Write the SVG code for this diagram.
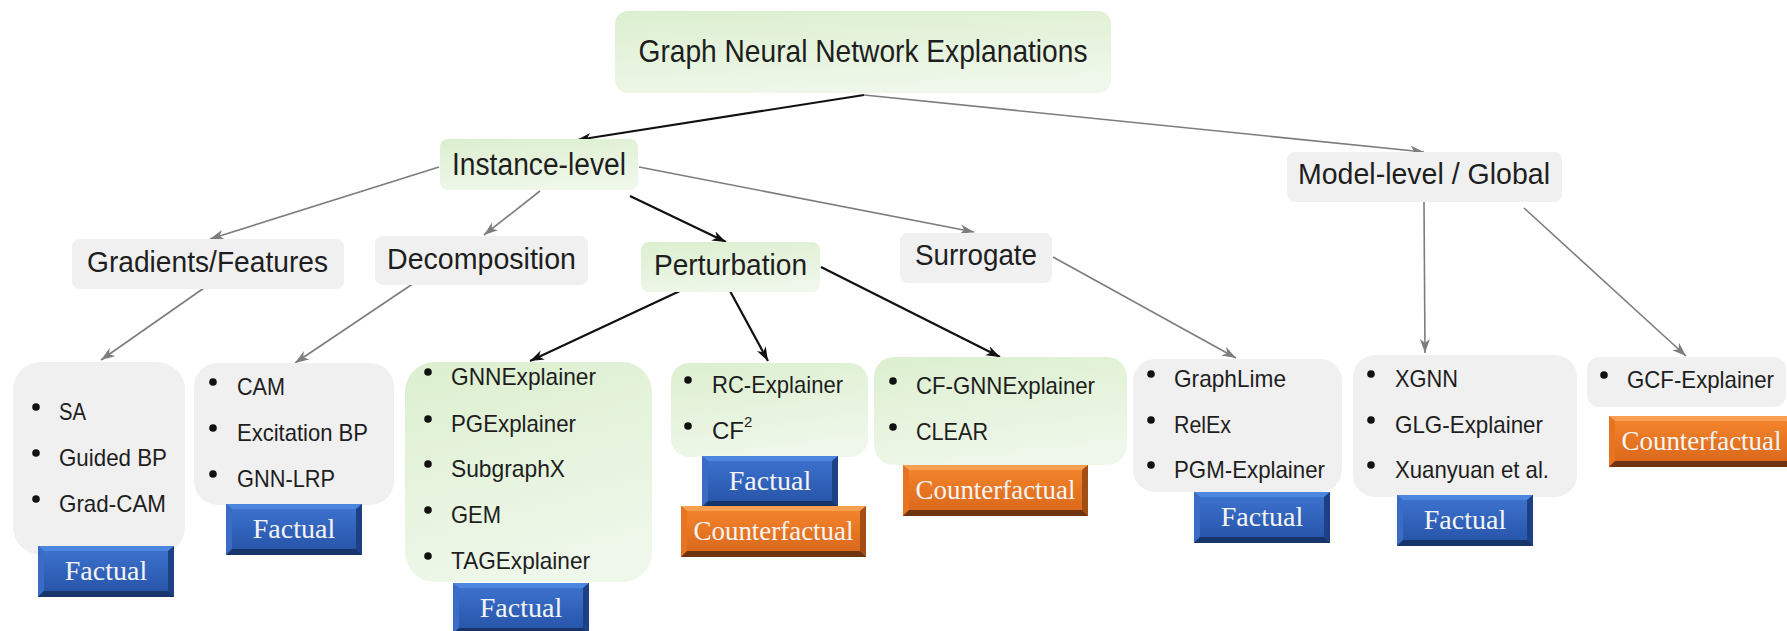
<svg xmlns="http://www.w3.org/2000/svg" width="1787" height="631" viewBox="0 0 1787 631">
<defs>
<linearGradient id="gGreen" x1="0" y1="0" x2="0.3" y2="1">
<stop offset="0" stop-color="#dcefcf"/>
<stop offset="1" stop-color="#eef7e9"/>
</linearGradient>
<linearGradient id="gBlue" x1="0" y1="0" x2="0" y2="1">
<stop offset="0" stop-color="#3e74d0"/>
<stop offset="1" stop-color="#2552a6"/>
</linearGradient>
<linearGradient id="gOrange" x1="0" y1="0" x2="0" y2="1">
<stop offset="0" stop-color="#f5862c"/>
<stop offset="1" stop-color="#d8651a"/>
</linearGradient>
<marker id="aBlack" markerUnits="userSpaceOnUse" markerWidth="15" markerHeight="11" refX="14" refY="5" orient="auto">
<path d="M0,0 L14,5 L0,10 L4,5 z" fill="#111"/>
</marker>
<marker id="aGray" markerUnits="userSpaceOnUse" markerWidth="15" markerHeight="11" refX="14" refY="5" orient="auto">
<path d="M0,0 L14,5 L0,10 L4,5 z" fill="#7d7d7d"/>
</marker>
<g id="btnF">
<rect x="0" y="0" width="136" height="51" fill="url(#gBlue)"/>
<polygon points="0,0 136,0 130,5 6,5" fill="#4d86de"/>
<polygon points="0,0 6,5 6,45 0,51" fill="#3a6cc6"/>
<polygon points="136,0 130,5 130,45 136,51" fill="#1e4185"/>
<polygon points="0,51 136,51 130,45 6,45" fill="#17346b"/>
</g>
<g id="btnC">
<rect x="0" y="0" width="185" height="51" fill="url(#gOrange)"/>
<polygon points="0,0 185,0 179,5 6,5" fill="#f7a052"/>
<polygon points="0,0 6,5 6,45 0,51" fill="#e67420"/>
<polygon points="185,0 179,5 179,45 185,51" fill="#a24f16"/>
<polygon points="0,51 185,51 179,45 6,45" fill="#6e3410"/>
</g>
</defs>
<style>
.green{fill:url(#gGreen);}
.gray{fill:#f0f0f0;}
.head{font-family:"Liberation Sans",Arial,sans-serif;fill:#1e1e1e;text-anchor:middle;}
.item{font-family:"Liberation Sans",Arial,sans-serif;font-size:24px;fill:#1e1e1e;}
.btn{font-family:"Liberation Serif","Times New Roman",serif;font-size:28px;fill:#f5f5f5;text-anchor:middle;}
.dot{fill:#111;}
.cb{stroke:#111;stroke-width:2.2;fill:none;marker-end:url(#aBlack);}
.cg{stroke:#7d7d7d;stroke-width:1.6;fill:none;marker-end:url(#aGray);}
</style>
<rect width="1787" height="631" fill="#ffffff"/>

<g id="connectors">
<path class="cb" d="M864,95 L577,140"/>
<path class="cg" d="M864,95 L1424,152"/>
<path class="cg" d="M439,167 L210,239"/>
<path class="cg" d="M540,191 L484,235"/>
<path class="cb" d="M630,196 L726,242"/>
<path class="cg" d="M639,167 L974,232"/>
<path class="cg" d="M214,281 L101,360"/>
<path class="cg" d="M417,281 L295,363"/>
<path class="cb" d="M682,290 L530,361"/>
<path class="cb" d="M730,291 L768,361"/>
<path class="cb" d="M821,267 L1000,357"/>
<path class="cg" d="M1053,257 L1236,358"/>
<path class="cg" d="M1424,202 L1425,353"/>
<path class="cg" d="M1524,208 L1686,356"/>
</g>

<g id="root">
<rect class="green" x="615" y="11" width="496" height="82" rx="13"/>
<text class="head" x="863" y="62" font-size="32" textLength="449" lengthAdjust="spacingAndGlyphs">Graph Neural Network Explanations</text>
</g>
<g id="instance">
<rect class="green" x="440" y="139" width="198" height="51" rx="8"/>
<text class="head" x="539" y="175" font-size="31" textLength="174" lengthAdjust="spacingAndGlyphs">Instance-level</text>
</g>
<g id="model">
<rect class="gray" x="1287" y="152" width="275" height="50" rx="8"/>
<text class="head" x="1424" y="184" font-size="30" textLength="252" lengthAdjust="spacingAndGlyphs">Model-level / Global</text>
</g>
<g id="gradients">
<rect class="gray" x="72" y="239" width="272" height="50" rx="8"/>
<text class="head" x="207.5" y="272" font-size="29" textLength="241" lengthAdjust="spacingAndGlyphs">Gradients/Features</text>
</g>
<g id="decomposition">
<rect class="gray" x="375" y="236" width="213" height="49" rx="8"/>
<text class="head" x="481.5" y="269" font-size="30" textLength="189" lengthAdjust="spacingAndGlyphs">Decomposition</text>
</g>
<g id="perturbation">
<rect class="green" x="641" y="242" width="179" height="50" rx="8"/>
<text class="head" x="730.5" y="275" font-size="30" textLength="153" lengthAdjust="spacingAndGlyphs">Perturbation</text>
</g>
<g id="surrogate">
<rect class="gray" x="900" y="233" width="152" height="50" rx="8"/>
<text class="head" x="976" y="265" font-size="30" textLength="122" lengthAdjust="spacingAndGlyphs">Surrogate</text>
</g>

<g id="list-gradients">
<rect class="gray" x="13" y="362" width="172" height="193" rx="28"/>
<circle class="dot" cx="36" cy="407" r="3.8"/><text class="item" x="59" y="420" textLength="27" lengthAdjust="spacingAndGlyphs">SA</text>
<circle class="dot" cx="36" cy="453" r="3.8"/><text class="item" x="59" y="466" textLength="108" lengthAdjust="spacingAndGlyphs">Guided BP</text>
<circle class="dot" cx="36" cy="499" r="3.8"/><text class="item" x="59" y="512" textLength="107" lengthAdjust="spacingAndGlyphs">Grad-CAM</text>
</g>
<g id="list-decomposition">
<rect class="gray" x="194" y="363" width="200" height="142" rx="24"/>
<circle class="dot" cx="213" cy="382" r="3.8"/><text class="item" x="237" y="395" textLength="48" lengthAdjust="spacingAndGlyphs">CAM</text>
<circle class="dot" cx="213" cy="428" r="3.8"/><text class="item" x="237" y="441" textLength="131" lengthAdjust="spacingAndGlyphs">Excitation BP</text>
<circle class="dot" cx="213" cy="474" r="3.8"/><text class="item" x="237" y="487" textLength="98" lengthAdjust="spacingAndGlyphs">GNN-LRP</text>
</g>
<g id="list-perturbation-factual">
<rect class="green" x="405" y="362" width="247" height="220" rx="30"/>
<circle class="dot" cx="428" cy="372" r="3.8"/><text class="item" x="451" y="385" textLength="145" lengthAdjust="spacingAndGlyphs">GNNExplainer</text>
<circle class="dot" cx="428" cy="419" r="3.8"/><text class="item" x="451" y="432" textLength="125" lengthAdjust="spacingAndGlyphs">PGExplainer</text>
<circle class="dot" cx="428" cy="464" r="3.8"/><text class="item" x="451" y="477" textLength="114" lengthAdjust="spacingAndGlyphs">SubgraphX</text>
<circle class="dot" cx="428" cy="510" r="3.8"/><text class="item" x="451" y="523" textLength="50" lengthAdjust="spacingAndGlyphs">GEM</text>
<circle class="dot" cx="428" cy="556" r="3.8"/><text class="item" x="451" y="569" textLength="139" lengthAdjust="spacingAndGlyphs">TAGExplainer</text>
</g>
<g id="list-perturbation-both">
<rect class="green" x="671" y="363" width="197" height="94" rx="18"/>
<circle class="dot" cx="688" cy="380" r="3.8"/><text class="item" x="712" y="393" textLength="131" lengthAdjust="spacingAndGlyphs">RC-Explainer</text>
<circle class="dot" cx="688" cy="426" r="3.8"/><text class="item" x="712" y="439">CF<tspan dy="-12" font-size="15">2</tspan></text>
</g>
<g id="list-perturbation-cf">
<rect class="green" x="874" y="357" width="253" height="108" rx="20"/>
<circle class="dot" cx="893" cy="381" r="3.8"/><text class="item" x="916" y="394" textLength="179" lengthAdjust="spacingAndGlyphs">CF-GNNExplainer</text>
<circle class="dot" cx="893" cy="427" r="3.8"/><text class="item" x="916" y="440" textLength="72" lengthAdjust="spacingAndGlyphs">CLEAR</text>
</g>
<g id="list-surrogate">
<rect class="gray" x="1133" y="359" width="209" height="133" rx="22"/>
<circle class="dot" cx="1151" cy="374" r="3.8"/><text class="item" x="1174" y="387" textLength="112" lengthAdjust="spacingAndGlyphs">GraphLime</text>
<circle class="dot" cx="1151" cy="420" r="3.8"/><text class="item" x="1174" y="433" textLength="57" lengthAdjust="spacingAndGlyphs">RelEx</text>
<circle class="dot" cx="1151" cy="465" r="3.8"/><text class="item" x="1174" y="478" textLength="151" lengthAdjust="spacingAndGlyphs">PGM-Explainer</text>
</g>
<g id="list-model">
<rect class="gray" x="1353" y="355" width="224" height="142" rx="22"/>
<circle class="dot" cx="1371" cy="374" r="3.8"/><text class="item" x="1395" y="387" textLength="63" lengthAdjust="spacingAndGlyphs">XGNN</text>
<circle class="dot" cx="1371" cy="420" r="3.8"/><text class="item" x="1395" y="433" textLength="148" lengthAdjust="spacingAndGlyphs">GLG-Explainer</text>
<circle class="dot" cx="1371" cy="465" r="3.8"/><text class="item" x="1395" y="478" textLength="154" lengthAdjust="spacingAndGlyphs">Xuanyuan et al.</text>
</g>
<g id="list-model-cf">
<rect class="gray" x="1587" y="357" width="199" height="50" rx="12"/>
<circle class="dot" cx="1604" cy="375" r="3.8"/><text class="item" x="1627" y="388" textLength="147" lengthAdjust="spacingAndGlyphs">GCF-Explainer</text>
</g>

<g id="tag-gradients-factual"><use href="#btnF" x="38" y="546"/><text class="btn" x="106" y="580">Factual</text></g>
<g id="tag-decomposition-factual"><use href="#btnF" x="226" y="504"/><text class="btn" x="294" y="538">Factual</text></g>
<g id="tag-perturbation-factual"><use href="#btnF" x="453" y="583"/><text class="btn" x="521" y="617">Factual</text></g>
<g id="tag-rc-factual"><use href="#btnF" x="702" y="456"/><text class="btn" x="770" y="490">Factual</text></g>
<g id="tag-rc-counterfactual"><use href="#btnC" x="681" y="506"/><text class="btn" x="773.5" y="540" textLength="160" lengthAdjust="spacingAndGlyphs">Counterfactual</text></g>
<g id="tag-cf-counterfactual"><use href="#btnC" x="903" y="465"/><text class="btn" x="995.5" y="499" textLength="160" lengthAdjust="spacingAndGlyphs">Counterfactual</text></g>
<g id="tag-surrogate-factual"><use href="#btnF" x="1194" y="492"/><text class="btn" x="1262" y="526">Factual</text></g>
<g id="tag-model-factual"><use href="#btnF" x="1397" y="495"/><text class="btn" x="1465" y="529">Factual</text></g>
<g id="tag-model-counterfactual"><use href="#btnC" x="1609" y="416"/><text class="btn" x="1701.5" y="450" textLength="160" lengthAdjust="spacingAndGlyphs">Counterfactual</text></g>
</svg>
